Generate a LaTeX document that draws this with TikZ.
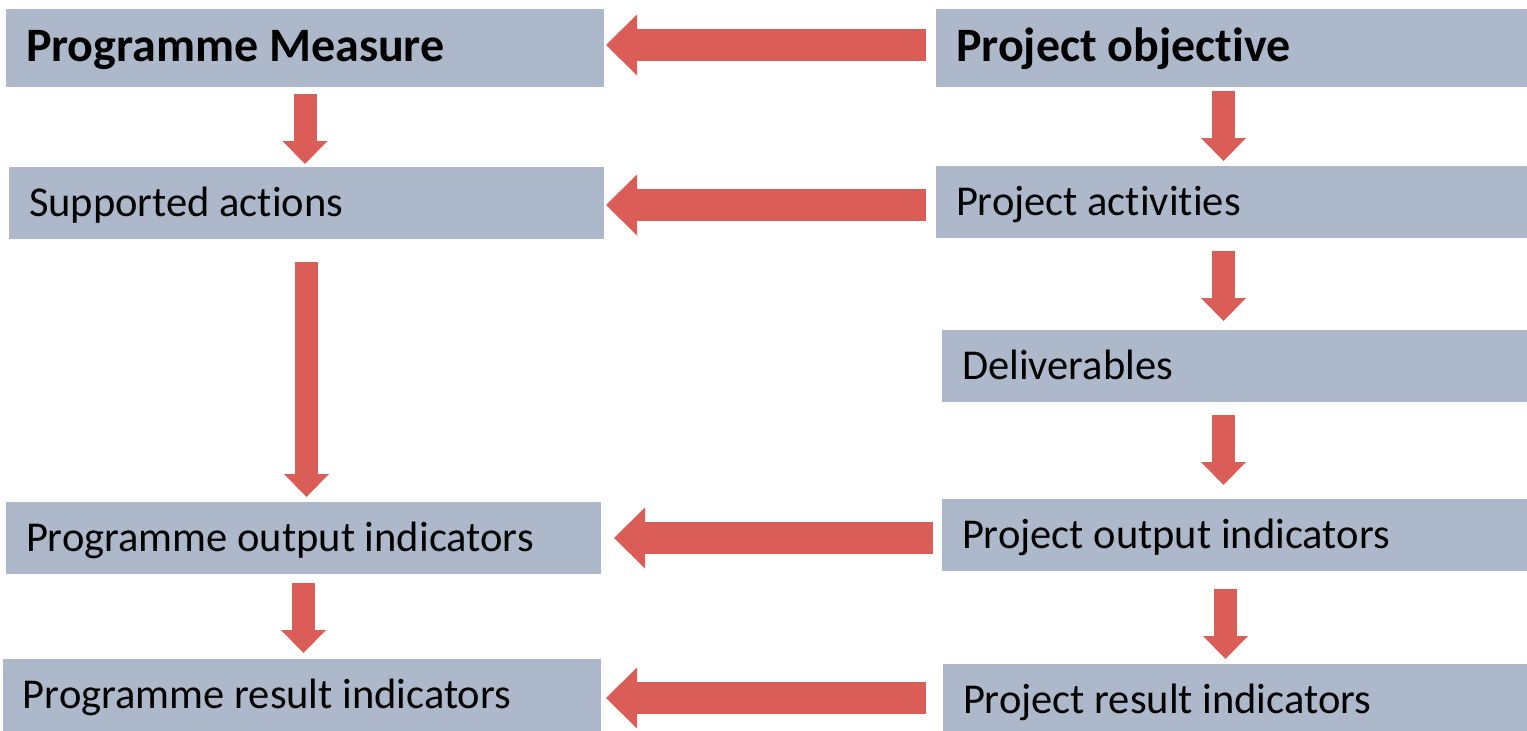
\documentclass[tikz,border=0pt]{standalone}
\usepackage{fontspec}
\setmainfont{Carlito}[Ligatures=NoCommon]
\usetikzlibrary{arrows.meta}

\definecolor{boxgray}{RGB}{173,185,202}
\definecolor{arrowred}{RGB}{218,94,87}

\newcommand{\headtext}[1]{{\fontsize{48}{52}\selectfont\bfseries #1}}

\begin{document}
\begin{tikzpicture}[x=1pt, y=-1pt,
  box/.style={fill=boxgray, anchor=north west, outer sep=0pt, inner xsep=20pt, inner ysep=0pt,
              align=flush left, text height=30pt, text depth=4pt, font=\fontsize{42.5}{48}\selectfont},
  harrow/.style={draw=arrowred, line width=32pt, -{Triangle[width=61pt, length=31pt, line width=0pt]}},
  varrow/.style={draw=arrowred, line width=23pt, -{Triangle[width=45pt, length=23pt, line width=0pt]}}]

\useasboundingbox (0, 0) rectangle (1527, 731);

% draw programme boxes
\node[box, minimum width=598pt, minimum height=78pt, text width=558pt] (measure) at (6, 9) {\headtext{Programme Measure}};
\node[box, minimum width=595pt, minimum height=72pt, text width=555pt] (actions) at (9, 167) {Supported actions};
\node[box, minimum width=595pt, minimum height=72pt, text width=555pt] (progout) at (6, 502) {Programme output indicators};
\node[box, minimum width=598pt, minimum height=72pt, text width=558pt] (progres) at (3, 659) {Programme result indicators};

% draw project boxes
\node[box, minimum width=591pt, minimum height=78pt, text width=551pt] (objective) at (936, 9) {\headtext{Project objective}};
\node[box, minimum width=591pt, minimum height=72pt, text width=551pt] (activities) at (936, 166) {Project activities};
\node[box, minimum width=585pt, minimum height=72pt, text width=545pt] (deliver) at (942, 330) {Deliverables};
\node[box, minimum width=585pt, minimum height=72pt, text width=545pt] (projout) at (942, 499) {Project output indicators};
\node[box, minimum width=584pt, minimum height=72pt, text width=544pt] (projres) at (943, 664) {Project result indicators};

% arrow tails in front of the project boxes
\coordinate (tail1) at ([xshift=-10pt, yshift=3pt]objective.west);
\coordinate (tail2) at ([xshift=-10pt, yshift=-3pt]activities.west);
\coordinate (tail3) at ([xshift=-9pt, yshift=-3pt]projout.west);
\coordinate (tail4) at ([xshift=-17pt, yshift=2pt]projres.west);

% draw arrows from project to programme
\draw[harrow] (tail1) -- ([xshift=2pt]tail1 -| measure.east);
\draw[harrow] (tail2) -- ([xshift=2pt]tail2 -| actions.east);
\draw[harrow] (tail3) -- ([xshift=13pt]tail3 -| progout.east);
\draw[harrow] (tail4) -- ([xshift=5pt]tail4 -| progres.east);

% draw downward arrows on the programme side
\draw[varrow] ([yshift=-7pt]measure.south) -- ([yshift=3pt]measure.south |- actions.north);
\draw[varrow] ([yshift=-23pt]actions.south) -- ([yshift=5pt]actions.south |- progout.north);
\draw[varrow] ([yshift=-9pt]progout.south) -- ([yshift=6pt]progout.south |- progres.north);

% draw downward arrows on the project side
\draw[varrow] ([xshift=-8pt, yshift=-4pt]objective.south) -- ([xshift=-8pt, yshift=5pt]objective.south |- activities.north);
\draw[varrow] ([xshift=-8pt, yshift=-13pt]activities.south) -- ([xshift=-8pt, yshift=9pt]activities.south |- deliver.north);
\draw[varrow] ([xshift=-11pt, yshift=-13pt]deliver.south) -- ([xshift=-11pt, yshift=14pt]deliver.south |- projout.north);
\draw[varrow] ([xshift=-9pt, yshift=-18pt]projout.south) -- ([xshift=-9pt, yshift=5pt]projout.south |- projres.north);

\end{tikzpicture}
\end{document}
